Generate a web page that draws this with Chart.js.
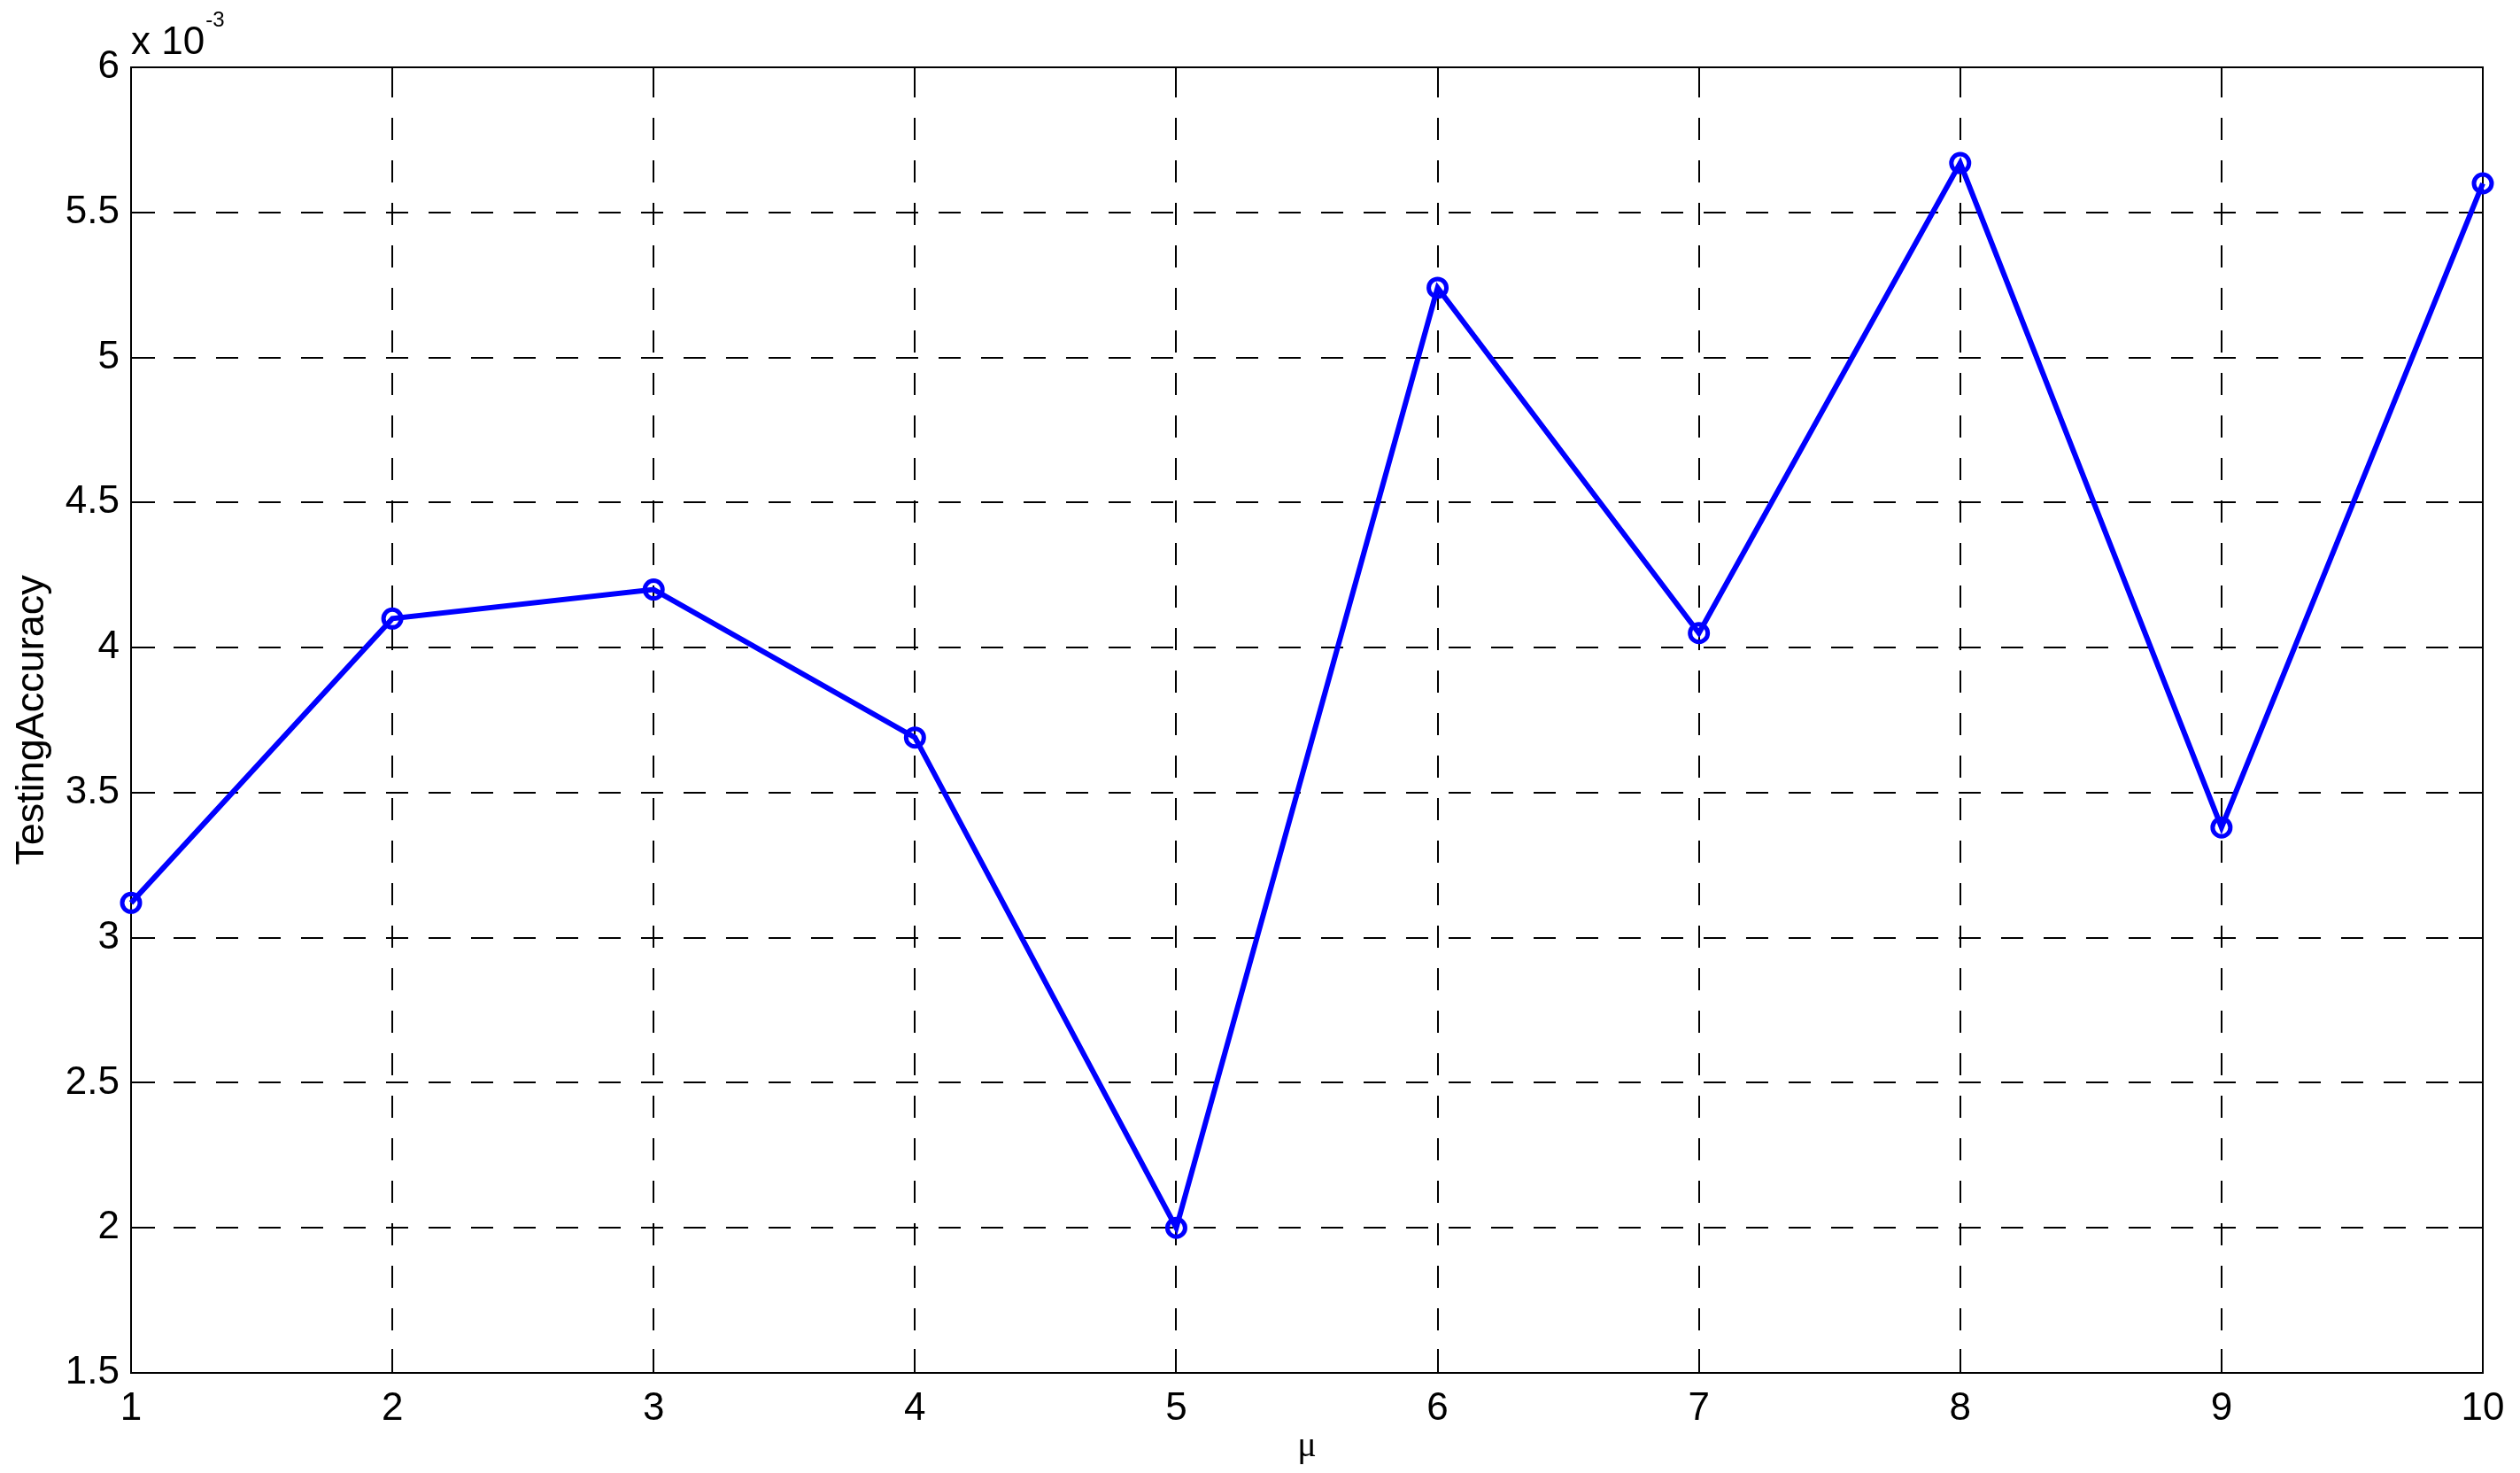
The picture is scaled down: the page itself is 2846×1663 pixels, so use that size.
<!DOCTYPE html>
<html>
<head>
<meta charset="utf-8">
<script src="https://cdn.jsdelivr.net/npm/chart.js@4"></script>
<style>
    html, body { margin: 0; padding: 0; background: #fff; }
    #wrap { width: 2846px; height: 1663px; }
</style>
</head>
<body>
<div id="wrap"><canvas id="accuracyChart" width="2846" height="1663"></canvas></div>
<script>
// Values (y in units of 10^-3)
const muValues = [1, 2, 3, 4, 5, 6, 7, 8, 9, 10];
const testingAccuracy = [3.12, 4.10, 4.20, 3.69, 2.00, 5.24, 4.05, 5.67, 3.38, 5.60];
const yTicks = [1.5, 2, 2.5, 3, 3.5, 4, 4.5, 5, 5.5, 6];
const yExponent = '-3';

const points = muValues.map((mu, i) => ({ x: mu, y: testingAccuracy[i] }));

// MATLAB-style axes box, inward ticks and the "x 10^-3" multiplier
const matlabAxes = {
    id: 'matlabAxes',
    beforeDatasetsDraw(chart) {
        const { ctx, chartArea: area, scales: { x, y } } = chart;
        const tickLen = 27;
        ctx.save();
        ctx.strokeStyle = '#000';
        ctx.lineWidth = 2;
        ctx.setLineDash([]);
        ctx.beginPath();
        muValues.forEach(v => {
            const px = Math.round(x.getPixelForValue(v));
            ctx.moveTo(px, area.bottom);
            ctx.lineTo(px, area.bottom - tickLen);
            ctx.moveTo(px, area.top);
            ctx.lineTo(px, area.top + tickLen);
        });
        yTicks.forEach(v => {
            const py = Math.round(y.getPixelForValue(v));
            ctx.moveTo(area.left, py);
            ctx.lineTo(area.left + tickLen, py);
            ctx.moveTo(area.right, py);
            ctx.lineTo(area.right - tickLen, py);
        });
        ctx.stroke();
        ctx.strokeRect(area.left, area.top, area.right - area.left, area.bottom - area.top);
        ctx.restore();
    },
    afterDraw(chart) {
        const { ctx, chartArea: area } = chart;
        ctx.save();
        ctx.fillStyle = '#000';
        ctx.textBaseline = 'alphabetic';
        ctx.textAlign = 'left';
        ctx.font = '44px "Liberation Sans", Arial, sans-serif';
        const base = 'x 10';
        ctx.fillText(base, area.left, area.top - 15);
        const w = ctx.measureText(base).width;
        ctx.font = '24px "Liberation Sans", Arial, sans-serif';
        ctx.fillText(yExponent, area.left + w + 1, area.top - 46);
        ctx.restore();
    }
};

new Chart(document.getElementById('accuracyChart'), {
    type: 'line',
    data: {
        datasets: [{
            label: 'TestingAccuracy',
            data: points,
            borderColor: '#0000ff',
            backgroundColor: 'rgba(0,0,0,0)',
            borderWidth: 6,
            tension: 0,
            fill: false,
            pointRadius: 10,
            pointHoverRadius: 10,
            pointBorderWidth: 5,
            pointBorderColor: '#0000ff',
            pointBackgroundColor: 'rgba(0,0,0,0)',
            clip: false
        }]
    },
    options: {
        responsive: false,
        animation: false,
        events: [],
        layout: { padding: { top: 76, right: 42, left: 0, bottom: 0 } },
        plugins: {
            legend: { display: false },
            tooltip: { enabled: false }
        },
        scales: {
            x: {
                type: 'linear',
                min: 1,
                max: 10,
                afterFit: s => { s.height = 113; },
                afterBuildTicks: s => { s.ticks = muValues.map(v => ({ value: v })); },
                ticks: {
                    color: '#000',
                    padding: 14,
                    maxRotation: 0,
                    font: { family: '"Liberation Sans", Arial, sans-serif', size: 44 }
                },
                grid: {
                    color: '#000',
                    lineWidth: 2,
                    drawTicks: false
                },
                border: { display: false, dash: [25, 23], dashOffset: 39 },
                title: {
                    display: true,
                    text: 'μ',
                    color: '#000',
                    padding: { top: 0, bottom: 6 },
                    font: { family: '"Liberation Serif", "Times New Roman", serif', size: 40 }
                }
            },
            y: {
                type: 'linear',
                min: 1.5,
                max: 6,
                afterFit: s => { s.width = 148; },
                afterBuildTicks: s => { s.ticks = yTicks.map(v => ({ value: v })); },
                ticks: {
                    color: '#000',
                    padding: 13,
                    font: { family: '"Liberation Sans", Arial, sans-serif', size: 44 },
                    callback: v => String(v)
                },
                grid: {
                    color: '#000',
                    lineWidth: 2,
                    drawTicks: false
                },
                border: { display: false, dash: [25, 23], dashOffset: 0 },
                title: {
                    display: true,
                    text: 'TestingAccuracy',
                    color: '#000',
                    padding: { top: 10, bottom: 0 },
                    font: { family: '"Liberation Sans", Arial, sans-serif', size: 45 }
                }
            }
        }
    },
    plugins: [matlabAxes]
});
</script>
</body>
</html>
